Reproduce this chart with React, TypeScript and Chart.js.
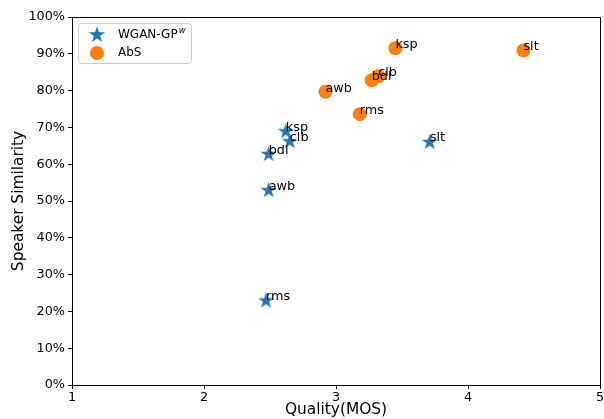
import React, { useEffect, useRef } from "react";
import { Chart, registerables } from "chart.js";

Chart.register(...registerables);

const speakers = ["rms", "awb", "bdl", "ksp", "clb", "slt"];
const wganQuality = [2.47, 2.49, 2.49, 2.62, 2.65, 3.71];
const wganSimilarity = [23.1, 53.1, 62.9, 69.1, 66.4, 66.2];
const absQuality = [3.18, 2.92, 3.27, 3.45, 3.32, 4.42];
const absSimilarity = [73.6, 79.7, 82.8, 91.5, 83.9, 90.9];
const xTicks = [1, 2, 3, 4, 5];

const BLUE = "#1f77b4";
const ORANGE = "#ff7f0e";
const FONT = "'DejaVu Sans', sans-serif";
const SMALL = 12.8;
const BIG = 15.4;

function starPath(ctx: CanvasRenderingContext2D, cx: number, cy: number, R: number) {
  const r = R * 0.381966;
  ctx.beginPath();
  for (let i = 0; i < 10; i++) {
    const rad = i % 2 === 0 ? R : r;
    const a = -Math.PI / 2 + (i * Math.PI) / 5;
    const x = cx + rad * Math.cos(a);
    const y = cy + rad * Math.sin(a);
    if (i === 0) ctx.moveTo(x, y);
    else ctx.lineTo(x, y);
  }
  ctx.closePath();
}

function makeStar(R: number) {
  const c = document.createElement("canvas");
  const s = Math.ceil(2 * R + 2);
  c.width = s;
  c.height = s;
  const ctx = c.getContext("2d")!;
  ctx.fillStyle = BLUE;
  starPath(ctx, s / 2, s / 2 + R * 0.1, R);
  ctx.fill();
  return c;
}

const STAR_R = 8.5;

export default function App() {
  const ref = useRef<HTMLCanvasElement>(null);
  useEffect(() => {
    document.body.style.margin = "0";
    const star = makeStar(STAR_R);
    const labelsPlugin = {
      id: "labelsAndFrame",
      afterDatasetsDraw(chart: any) {
        const ctx = chart.ctx as CanvasRenderingContext2D;
        const xs = chart.scales.x;
        const ys = chart.scales.y;
        ctx.save();
        ctx.fillStyle = "#000";
        ctx.font = `${SMALL}px ${FONT}`;
        ctx.textAlign = "left";
        ctx.textBaseline = "alphabetic";
        const draw = (qx: number[], sy: number[]) => {
          speakers.forEach((name, i) => {
            const px = xs.getPixelForValue(qx[i]);
            const py = ys.getPixelForValue(sy[i]);
            ctx.fillText(name, px, py);
          });
        };
        draw(wganQuality, wganSimilarity);
        draw(absQuality, absSimilarity);
        // frame
        const a = chart.chartArea;
        ctx.strokeStyle = "#000";
        ctx.lineWidth = 1;
        ctx.strokeRect(Math.round(a.left) + 0.5, Math.round(a.top) + 0.5, Math.round(a.right - a.left), Math.round(a.bottom - a.top));
        // legend
        const lx = Math.round(a.left) + 6;
        const ly = Math.round(a.top) + 6;
        const lw = 113;
        const lh = 40;
        ctx.fillStyle = "rgba(255,255,255,0.8)";
        ctx.strokeStyle = "#cccccc";
        ctx.beginPath();
        (ctx as any).roundRect(lx + 0.5, ly + 0.5, lw, lh, 3);
        ctx.fill();
        ctx.stroke();
        starPath(ctx, lx + 19, ly + 12, STAR_R);
        ctx.fillStyle = BLUE;
        ctx.fill();
        ctx.beginPath();
        ctx.arc(lx + 19, ly + 30, 7, 0, Math.PI * 2);
        ctx.fillStyle = ORANGE;
        ctx.fill();
        ctx.fillStyle = "#000";
        ctx.textBaseline = "middle";
        ctx.font = `12px ${FONT}`;
        ctx.fillText("WGAN-GP", lx + 40, ly + 12);
        const w = ctx.measureText("WGAN-GP").width;
        ctx.font = `italic 8.5px ${FONT}`;
        ctx.fillText("w", lx + 40 + w + 1, ly + 8);
        ctx.font = `12px ${FONT}`;
        ctx.fillText("AbS", lx + 40, ly + 30);
        ctx.restore();
      },
    };
    const chart = new Chart(ref.current!, {
      type: "scatter",
      data: {
        datasets: [
          {
            label: "WGAN-GP",
            data: wganQuality.map((q, i) => ({ x: q, y: wganSimilarity[i] })),
            pointStyle: star as any,
            backgroundColor: BLUE,
            borderColor: BLUE,
          },
          {
            label: "AbS",
            data: absQuality.map((q, i) => ({ x: q, y: absSimilarity[i] })),
            pointRadius: 7,
            pointHoverRadius: 7,
            borderWidth: 0,
            backgroundColor: ORANGE,
            borderColor: ORANGE,
          },
        ],
      },
      options: {
        animation: false,
        responsive: false,
        layout: { padding: { left: 0, right: 0, top: 17, bottom: 0 } },
        plugins: { legend: { display: false }, tooltip: { enabled: false } },
        scales: {
          x: {
            type: "linear",
            min: 1,
            max: 5,
            afterBuildTicks: (s: any) => {
              s.ticks = xTicks.map((v) => ({ value: v }));
            },
            afterFit: (s: any) => {
              s.height = 34;
              s.paddingLeft = 0;
              s.paddingRight = 0;
            },
            ticks: {
              color: "#000",
              font: { family: FONT, size: SMALL },
              padding: 1,
              maxRotation: 0,
              callback: (v: any) => String(v),
            },
            grid: { display: true, drawOnChartArea: false, drawTicks: true, tickLength: 4, color: "#000" },
            border: { display: true, color: "#000" },
            title: {
              display: true,
              text: "Quality(MOS)",
              color: "#000",
              font: { family: FONT, size: BIG },
              padding: { top: 0, bottom: 0 },
            },
          },
          y: {
            type: "linear",
            min: 0,
            max: 100,
            ticks: {
              stepSize: 10,
              color: "#000",
              font: { family: FONT, size: SMALL },
              padding: 3,
              callback: (v: any) => `${v}%`,
            },
            afterFit: (s: any) => {
              s.width = 72;
              s.paddingTop = 0;
              s.paddingBottom = 0;
            },
            grid: { display: true, drawOnChartArea: false, drawTicks: true, tickLength: 4, color: "#000" },
            border: { display: true, color: "#000" },
            title: {
              display: true,
              text: "Speaker Similarity",
              color: "#000",
              font: { family: FONT, size: BIG },
              padding: { top: 10, bottom: 2 },
            },
          },
        },
      },
      plugins: [labelsPlugin],
    });
    return () => chart.destroy();
  }, []);
  return (
    <div style={{ width: 604, height: 419, overflow: "hidden" }}>
      <canvas ref={ref} width={607} height={419} style={{ display: "block" }} />
    </div>
  );
}
